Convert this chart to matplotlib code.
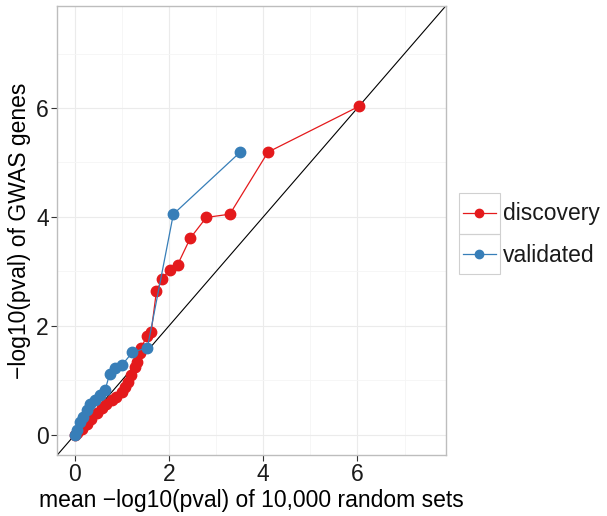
import matplotlib
matplotlib.use('Agg')
import matplotlib.pyplot as plt
from matplotlib.patches import Rectangle

plt.rcParams['font.family'] = ['Liberation Sans', 'DejaVu Sans']

# discovery gene set: expected (random sets) vs observed -log10(pval)
disc_x = [0.00, 0.04, 0.14, 0.25, 0.35, 0.46, 0.57, 0.67, 0.78, 0.88, 0.99, 1.06,
          1.13, 1.20, 1.27, 1.31, 1.38, 1.41, 1.52, 1.62, 1.73, 1.85, 2.01, 2.18,
          2.45, 2.79, 3.29, 4.10, 6.03]
disc_y = [0.00, 0.03, 0.11, 0.20, 0.29, 0.39, 0.48, 0.57, 0.63, 0.69, 0.78, 0.88,
          0.97, 1.09, 1.24, 1.34, 1.49, 1.59, 1.81, 1.89, 2.63, 2.86, 3.03, 3.12,
          3.61, 3.99, 4.05, 5.19, 6.03]

# validated gene set
val_x = [0.00, 0.04, 0.11, 0.18, 0.25, 0.32, 0.42, 0.53, 0.64, 0.74, 0.86, 0.99,
         1.22, 1.54, 2.09, 3.51]
val_y = [0.00, 0.08, 0.23, 0.32, 0.45, 0.57, 0.63, 0.72, 0.82, 1.12, 1.22, 1.27,
         1.51, 1.60, 4.05, 5.19]

ticks = [0, 2, 4, 6]
minor = [1, 3, 5, 7]
red = '#E41A1C'
blue = '#377EB8'
fs = 16.5

fig = plt.figure(figsize=(6.07, 5.16), dpi=100)
ax = fig.add_axes([57.3 / 607, 61 / 516, 388.4 / 607, 449 / 516])

ax.set_xlim(-0.375, 7.875)
ax.set_ylim(-0.375, 7.875)
ax.set_xticks(ticks)
ax.set_yticks(ticks)
ax.set_xticks(minor, minor=True)
ax.set_yticks(minor, minor=True)
ax.grid(which='major', color='#ebebeb', lw=0.8)
ax.grid(which='minor', color='#f5f5f5', lw=0.6)
ax.set_axisbelow(True)
ax.tick_params(which='minor', length=0)
ax.tick_params(which='major', length=4, width=0.8, color='#333333',
               labelsize=fs, labelcolor='#1a1a1a', pad=2)
for s in ax.spines.values():
    s.set_color('#bdbdbd')
    s.set_linewidth(1.0)

ax.axline((0, 0), slope=1, color='black', lw=0.8, zorder=1)

ax.plot(disc_x, disc_y, '-o', color=red, lw=0.9, ms=7.5, mec=red, zorder=3)
ax.plot(val_x, val_y, '-o', color=blue, lw=0.9, ms=7.5, mec=blue, zorder=4)

ax.set_xlabel('mean \u2212log10(pval) of 10,000 random sets', fontsize=fs, labelpad=2)
ax.set_ylabel('\u2212log10(pval) of GWAS genes', fontsize=fs, labelpad=4)

# legend drawn by hand, ggplot style keys
lax = fig.add_axes([459 / 607, (516 - 274) / 516, 41 / 607, 81 / 516])
lax.set_xlim(0, 1)
lax.set_ylim(0, 2)
lax.axis('off')
for i, (lab, col) in enumerate([('discovery', red), ('validated', blue)]):
    yc = 1.5 - i
    lax.add_patch(Rectangle((0, yc - 0.5), 1, 1, fill=False, ec='#d0d0d0', lw=0.8,
                            clip_on=False))
    lax.plot([0.1, 0.9], [yc, yc], color=col, lw=0.9)
    lax.plot([0.5], [yc], 'o', color=col, ms=6)
    fig.text(503 / 607, 1 - (213 + 42 * i) / 516, lab, fontsize=fs, va='center',
             ha='left', color='#1a1a1a')

fig.savefig('out.png', dpi=100)
